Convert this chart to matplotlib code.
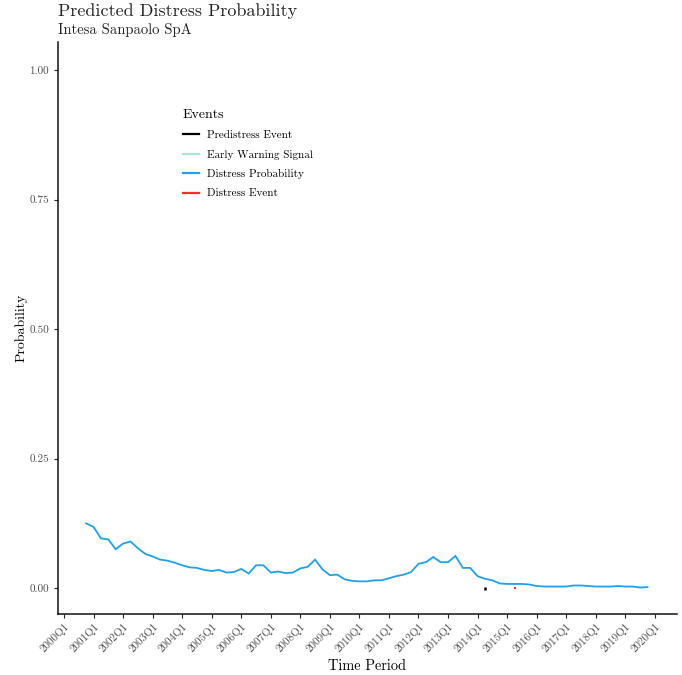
import matplotlib
matplotlib.use("Agg")
import matplotlib.pyplot as plt
from matplotlib.lines import Line2D

plt.rcParams["font.family"] = ["cmr10", "DejaVu Serif"]
plt.rcParams["axes.unicode_minus"] = False
plt.rcParams["mathtext.fontset"] = "cm"

# ─── Data ────────────────────────────────────────────────────────────────────
# quarter index: 0 = 2000Q1
quarters = list(range(3, 80))
distress_prob = [
    0.125, 0.118, 0.096, 0.094, 0.075, 0.086, 0.090, 0.077, 0.066, 0.061,
    0.055, 0.053, 0.049, 0.044, 0.040, 0.039, 0.035, 0.033, 0.035, 0.030,
    0.031, 0.037, 0.028, 0.044, 0.044, 0.030, 0.032, 0.029, 0.030, 0.038,
    0.041, 0.055, 0.036, 0.025, 0.026, 0.017, 0.014, 0.013, 0.013, 0.015,
    0.015, 0.019, 0.023, 0.026, 0.031, 0.047, 0.050, 0.060, 0.050, 0.050,
    0.062, 0.039, 0.039, 0.023, 0.018, 0.015, 0.009, 0.008, 0.008, 0.008,
    0.007, 0.004, 0.003, 0.003, 0.003, 0.003, 0.005, 0.005, 0.004, 0.003,
    0.003, 0.003, 0.004, 0.003, 0.003, 0.001, 0.002,
]
predistress_q = [57]
distress_q = [61]

tick_pos = list(range(0, 81, 4))
tick_labels = [f"{2000 + i}Q1" for i in range(21)]
y_ticks = [0.0, 0.25, 0.50, 0.75, 1.00]

# ─── Colours ─────────────────────────────────────────────────────────────────
C_PRE = "#000000"
C_EWS = "#a8e6cf"
C_PROB = "#1ea1ec"
C_DIST = "#ff2a2a"
GREY = "#4d4d4d"

fig = plt.figure(figsize=(6.82, 6.75), dpi=100)
ax = fig.add_axes([58 / 682, 61 / 675, 619 / 682, 572 / 675])

ax.plot(quarters, distress_prob, color=C_PROB, linewidth=1.3, solid_joinstyle="miter")
ax.vlines(predistress_q, -0.003, 0.003, color=C_PRE, linewidth=1.8)
ax.vlines(distress_q, -0.002, 0.002, color=C_DIST, linewidth=1.4)

ax.set_xlim(-0.81, 83.0)
ax.set_ylim(-0.05, 1.054)
ax.set_xticks(tick_pos)
ax.set_xticklabels(tick_labels, rotation=45, ha="right", rotation_mode="anchor",
                   fontsize=8, color=GREY)
ax.set_yticks(y_ticks)
ax.set_yticklabels([f"{v:.2f}" for v in y_ticks], fontsize=8, color=GREY)
ax.tick_params(axis="both", length=3, width=0.8, color="#222222")
ax.tick_params(axis="x", pad=2)

for side in ("top", "right"):
    ax.spines[side].set_visible(False)
for side in ("left", "bottom"):
    ax.spines[side].set_linewidth(1.1)
    ax.spines[side].set_color("#111111")

ax.set_xlabel("Time Period", fontsize=10.3, labelpad=4)
ax.set_ylabel("Probability", fontsize=10, labelpad=1)

fig.text(58 / 682, 1 - 11 / 675, "Predicted Distress Probability",
         fontsize=13, va="center", ha="left", color="#222222")
fig.text(58 / 682, 1 - 30 / 675, "Intesa Sanpaolo SpA",
         fontsize=10.5, va="center", ha="left", color="#222222")

handles = [
    Line2D([], [], color=C_PRE, linewidth=1.6),
    Line2D([], [], color=C_EWS, linewidth=1.6),
    Line2D([], [], color=C_PROB, linewidth=1.6),
    Line2D([], [], color=C_DIST, linewidth=1.6),
]
labels = ["Predistress Event", "Early Warning Signal", "Distress Probability", "Distress Event"]
leg = ax.legend(handles, labels, title="Events", loc="upper left",
                frameon=False, fontsize=8, title_fontsize=10, handlelength=1.4,
                handletextpad=0.75, labelspacing=0.85)
leg._legend_box.align = "left"
leg.set_bbox_to_anchor((173 / 682, 1 - 99 / 675), transform=fig.transFigure)

fig.savefig("out.png", dpi=100, facecolor="white")
